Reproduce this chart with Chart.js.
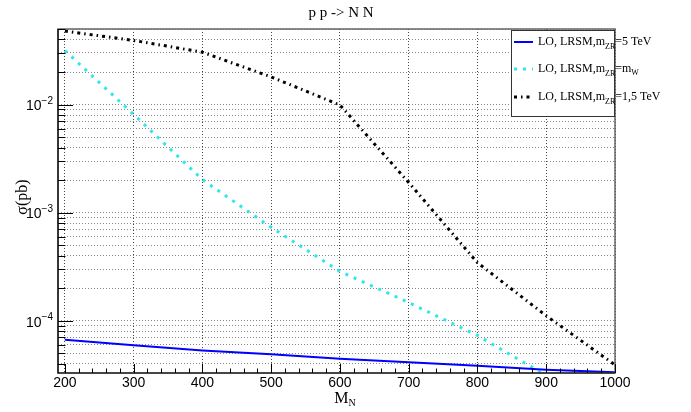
<!DOCTYPE html>
<html>
<head>
<meta charset="utf-8">
<script src="https://cdn.jsdelivr.net/npm/chart.js@4/dist/chart.umd.min.js"></script>
<style>
  html, body { margin: 0; padding: 0; background: #fff; }
  #wrap { width: 691px; height: 412px; }
</style>
</head>
<body>
<div id="wrap"><canvas id="cv" width="691" height="412"></canvas></div>
<script>
/* pp -> NN cross section vs M_N, three LRSM scenarios */
const massN = [200, 300, 400, 500, 600, 700, 800, 900, 1000];
const sigmaZR5 = [6.67e-5, 5.93e-5, 5.31e-5, 4.88e-5, 4.45e-5, 4.13e-5, 3.83e-5, 3.52e-5, 3.33e-5];
const sigmaZRmW = [3.16e-2, 8.1e-3, 2.02e-3, 7.3e-4, 2.86e-4, 1.47e-4, 7.3e-5, 3.1e-5, null];
const sigmaZR15 = [4.78e-2, 3.92e-2, 3.05e-2, 1.8e-2, 9.9e-3, 1.9e-3, 3.44e-4, 1.11e-4, 3.9e-5];

const xTicks = [200, 300, 400, 500, 600, 700, 800, 900, 1000];
const yDecades = [-4, -3, -2];
const X_MIN = 190, X_MAX = 1000, Y_MIN = 3.28e-5, Y_MAX = 0.05;

const legendRows = [
  { pre: "LO, LRSM,m", sub: "ZR", post: "=5 TeV", color: "#0000ff", dash: [], width: 2 },
  { pre: "LO, LRSM,m", sub: "ZR", post: "=m", post2: "W", color: "#2ee6ee", dash: [3, 6], width: 3 },
  { pre: "LO, LRSM,m", sub: "ZR", post: "=1,5 TeV", color: "#000000", dash: [3, 4, 1.5, 4], width: 3 },
];

const pts = arr => massN.map((m, i) => ({ x: m, y: arr[i] }));

// log grid: every 1..9 x 10^n inside the range
const yGrid = [];
for (let e = -5; e <= -1; e++) for (let k = 1; k <= 9; k++) {
  const v = k * Math.pow(10, e);
  if (v >= Y_MIN && v <= Y_MAX) yGrid.push(v);
}

const SERIF = '"Liberation Serif", "Times New Roman", serif';
const SANS = '"Liberation Sans", Arial, sans-serif';

function runs(ctx, x, y, parts) {
  // parts: [text, font, dy]
  parts.forEach(([t, f, dy]) => { ctx.font = f; ctx.fillText(t, x, y + dy); x += ctx.measureText(t).width; });
  return x;
}
function runsWidth(ctx, parts) {
  return parts.reduce((w, [t, f]) => { ctx.font = f; return w + ctx.measureText(t).width; }, 0);
}

const decor = {
  id: "decor",
  afterDraw(chart) {
    const { ctx, chartArea: a, scales: { x, y } } = chart;
    ctx.save();
    ctx.setLineDash([]);

    // frame
    ctx.strokeStyle = "#666"; ctx.lineWidth = 1.5;
    ctx.strokeRect(a.left, a.top, a.right - a.left, a.bottom - a.top);
    ctx.strokeStyle = "#000"; ctx.lineWidth = 1.2;
    ctx.beginPath(); ctx.moveTo(a.left, a.top); ctx.lineTo(a.left, a.bottom); ctx.lineTo(a.right, a.bottom); ctx.stroke();

    // inner ticks, x
    ctx.lineWidth = 1;
    for (let v = 200; v <= X_MAX; v += 20) {
      const px = Math.round(x.getPixelForValue(v)) + 0.5;
      const len = v % 100 === 0 ? 9 : 4.5;
      ctx.beginPath(); ctx.moveTo(px, a.bottom); ctx.lineTo(px, a.bottom - len); ctx.stroke();
    }
    // inner ticks, y
    yGrid.forEach(v => {
      const py = Math.round(y.getPixelForValue(v)) + 0.5;
      const len = Math.abs(Math.log10(v) - Math.round(Math.log10(v))) < 1e-9 ? 15 : 7.5;
      ctx.beginPath(); ctx.moveTo(a.left, py); ctx.lineTo(a.left + len, py); ctx.stroke();
    });

    // tick labels
    ctx.fillStyle = "#000";
    ctx.textBaseline = "middle";
    ctx.textAlign = "center";
    ctx.font = "14px " + SANS;
    xTicks.forEach(v => ctx.fillText(String(v), x.getPixelForValue(v), 383));
    ctx.textAlign = "left";
    yDecades.forEach(e => {
      const py = y.getPixelForValue(Math.pow(10, e));
      const parts = [["10", "14px " + SANS, 2], ["\u2212" + Math.abs(e), "10px " + SANS, -3]];
      runs(ctx, 53 - runsWidth(ctx, parts), py, parts);
    });

    // title
    ctx.textAlign = "center";
    ctx.font = "15px " + SERIF;
    ctx.fillText("p p -> N N", 341, 13);

    // x axis title
    ctx.textAlign = "left";
    const xt = [["M", "16px " + SERIF, 0], ["N", "10px " + SERIF, 4]];
    runs(ctx, 345 - runsWidth(ctx, xt) / 2, 399, xt);

    // y axis title
    ctx.save();
    ctx.translate(23, 197);
    ctx.rotate(-Math.PI / 2);
    ctx.textAlign = "center";
    ctx.font = "16px " + SERIF;
    ctx.fillText("\u03c3(pb)", 0, 0);
    ctx.restore();

    // legend
    const L = { x0: 511, y0: 30, x1: 614, y1: 116 };
    ctx.fillStyle = "#fff";
    ctx.fillRect(L.x0, L.y0, L.x1 - L.x0, L.y1 - L.y0);
    ctx.strokeStyle = "#333"; ctx.lineWidth = 1;
    ctx.strokeRect(L.x0 + 0.5, L.y0 + 0.5, L.x1 - L.x0, L.y1 - L.y0);
    const rowY = [42, 69, 97];
    legendRows.forEach((r, i) => {
      const ry = rowY[i];
      ctx.strokeStyle = r.color; ctx.lineWidth = r.width; ctx.setLineDash(r.dash);
      ctx.beginPath(); ctx.moveTo(514, ry); ctx.lineTo(533, ry); ctx.stroke();
      ctx.setLineDash([]);
      ctx.fillStyle = "#000";
      const parts = [[r.pre, "12px " + SERIF, 0], [r.sub, "8px " + SERIF, 5], [r.post, "12px " + SERIF, 0]];
      if (r.post2) parts.push([r.post2, "8px " + SERIF, 4]);
      runs(ctx, 538, ry, parts);
    });
    ctx.restore();
  }
};

new Chart(document.getElementById("cv"), {
  type: "line",
  data: {
    datasets: [
      { data: pts(sigmaZR5), borderColor: "#0000ff", borderWidth: 2, pointRadius: 0, tension: 0 },
      { data: pts(sigmaZRmW), borderColor: "#2ee6ee", borderWidth: 3, borderDash: [3, 6], pointRadius: 0, tension: 0 },
      { data: pts(sigmaZR15), borderColor: "#000000", borderWidth: 3, borderDash: [3, 4, 1.5, 4], pointRadius: 0, tension: 0 },
    ]
  },
  options: {
    responsive: false,
    animation: false,
    devicePixelRatio: 1,
    layout: { padding: { left: 58, right: 76, top: 29, bottom: 39 } },
    plugins: { legend: { display: false }, tooltip: { enabled: false }, title: { display: false } },
    scales: {
      x: {
        type: "linear", min: X_MIN, max: X_MAX,
        afterBuildTicks: s => { s.ticks = xTicks.map(v => ({ value: v })); },
        ticks: { display: false },
        grid: { color: "#444", lineWidth: 1, drawTicks: false },
        border: { display: false, dash: [1, 2] }
      },
      y: {
        type: "logarithmic", min: Y_MIN, max: Y_MAX,
        afterBuildTicks: s => { s.ticks = yGrid.map(v => ({ value: v })); },
        ticks: { display: false },
        grid: { color: "#888", lineWidth: 1, drawTicks: false },
        border: { display: false, dash: [1, 2] }
      }
    }
  },
  plugins: [decor]
});
</script>
</body>
</html>
